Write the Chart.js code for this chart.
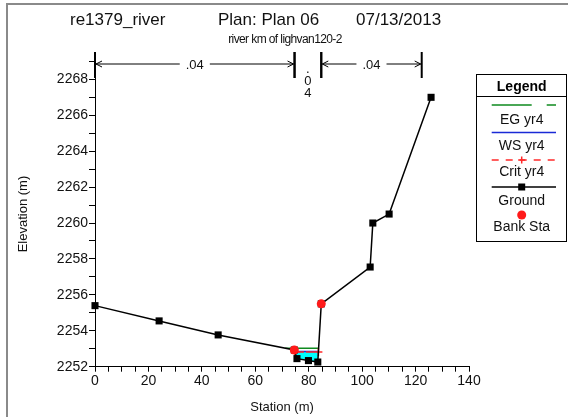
<!DOCTYPE html>
<html>
<head>
<meta charset="utf-8">
<script src="https://cdn.jsdelivr.net/npm/chart.js@4.4.0/dist/chart.umd.min.js"></script>
<style>
  html, body { margin: 0; padding: 0; background: #fff; }
  #wrap { width: 568px; height: 417px; }
</style>
</head>
<body>
<div id="wrap"><canvas id="xsChart" width="568" height="417"></canvas></div>
<script>
// --- cross section data ---
const groundStation = [0, 24, 46.1, 74.6, 75.6, 79.9, 83.4, 84.7, 103, 104, 110.1, 125.8];
const groundElev = [2255.4, 2254.55, 2253.77, 2252.93, 2252.45, 2252.34, 2252.26, 2255.5, 2257.55, 2260.0, 2260.5, 2267.0];
const bankStation = [74.6, 84.7];
const bankElev = [2252.93, 2255.5];
const egLevel = 2253.03;
const wsLevel = 2252.85;
const critLevel = 2252.82;

// manning n regions shown by the arrows on top
const nStart = [0, 74.7, 84.7];
const nEnd = [74.7, 84.7, 122.3];
const nValues = [".04", ".04", ".04"];

const legendLabels = ["EG yr4", "WS yr4", "Crit yr4", "Ground", "Bank Sta"];

const FONT = "'Liberation Sans', Arial, sans-serif";

// where a water level meets the ground on both sides of the channel
function waterEdges(level) {
  let lo = 0;
  groundElev.forEach((e, i) => { if (e < groundElev[lo]) lo = i; });
  let i = lo, j = lo;
  while (i > 0 && groundElev[i - 1] < level) i--;
  while (j < groundElev.length - 1 && groundElev[j + 1] < level) j++;
  const cross = (a, b) => groundStation[a] +
    (level - groundElev[a]) / (groundElev[b] - groundElev[a]) * (groundStation[b] - groundStation[a]);
  return { left: cross(i - 1, i), right: cross(j, j + 1), from: i, to: j };
}

function levelLine(level) {
  const w = waterEdges(level);
  return [{ x: w.left, y: level }, { x: w.right, y: level }];
}

function waterShape(level) {
  const w = waterEdges(level);
  const pts = [{ x: w.left, y: level }, { x: w.right, y: level }];
  for (let k = w.to; k >= w.from; k--) pts.push({ x: groundStation[k], y: groundElev[k] });
  return pts;
}

const groundPts = groundStation.map((s, i) => ({ x: s, y: groundElev[i] }));
const bankPts = bankStation.map((s, i) => ({ x: s, y: bankElev[i] }));

// --- extras drawn around the plot: frame, titles, n-value arrows, legend box ---
const decor = {
  id: "xsDecor",
  afterDraw(chart) {
    const ctx = chart.ctx;
    const xs = chart.scales.x;
    ctx.save();

    // frame
    ctx.strokeStyle = "#8a8a8a";
    ctx.lineWidth = 2;
    ctx.beginPath();
    ctx.moveTo(7, 417); ctx.lineTo(7, 4); ctx.lineTo(568, 4);
    ctx.stroke();

    // titles
    ctx.fillStyle = "#111";
    ctx.textBaseline = "middle";
    ctx.textAlign = "left";
    ctx.font = "17px " + FONT;
    ctx.fillText("re1379_river", 70, 20);
    ctx.fillText("Plan: Plan 06", 218, 20);
    ctx.fillText("07/13/2013", 356, 20);
    ctx.textAlign = "center";
    ctx.font = "12px " + FONT;
    ctx.letterSpacing = "-0.6px";
    ctx.fillText("river km of lighvan120-2", 285, 40);
    ctx.letterSpacing = "0px";

    // n-value arrows
    const ay = 64;
    ctx.font = "13px " + FONT;
    ctx.strokeStyle = "#000";
    nStart.forEach((s, i) => {
      const x1 = xs.getPixelForValue(s);
      const x2 = xs.getPixelForValue(nEnd[i]);
      ctx.lineWidth = 2;
      ctx.beginPath();
      ctx.moveTo(x1, 52); ctx.lineTo(x1, 78);
      ctx.moveTo(x2, 52); ctx.lineTo(x2, 78);
      ctx.stroke();
      const mid = (x1 + x2) / 2;
      if (x2 - x1 > 40) {
        const half = ctx.measureText(nValues[i]).width / 2 + 6;
        ctx.lineWidth = 1;
        ctx.beginPath();
        ctx.moveTo(x1 + 1, ay); ctx.lineTo(mid - half, ay);
        ctx.moveTo(mid + half, ay); ctx.lineTo(x2 - 1, ay);
        ctx.moveTo(x1 + 7, ay - 3); ctx.lineTo(x1 + 1, ay); ctx.lineTo(x1 + 7, ay + 3);
        ctx.moveTo(x2 - 7, ay - 3); ctx.lineTo(x2 - 1, ay); ctx.lineTo(x2 - 7, ay + 3);
        ctx.stroke();
        ctx.fillText(nValues[i], mid, ay + 1);
      } else {
        nValues[i].split("").forEach((c, k) => ctx.fillText(c, mid, 69 + k * 12.3));
      }
    });

    // legend box
    const lx = 476.5, ly = 74.5, lw = 90, lh = 167, cx = 521.7;
    ctx.fillStyle = "#fff";
    ctx.fillRect(lx, ly, lw, lh);
    ctx.lineWidth = 1;
    ctx.strokeStyle = "#000";
    ctx.strokeRect(lx, ly, lw, lh);
    ctx.beginPath();
    ctx.moveTo(lx, 96.5); ctx.lineTo(lx + lw, 96.5);
    ctx.stroke();
    ctx.fillStyle = "#000";
    ctx.font = "bold 14px " + FONT;
    ctx.fillText("Legend", cx, 87);
    ctx.font = "14px " + FONT;
    const sx1 = 491.7, sx2 = 556;
    const sample = (y, color, dash, width) => {
      ctx.save();
      ctx.strokeStyle = color;
      ctx.lineWidth = width;
      ctx.setLineDash(dash);
      ctx.beginPath();
      ctx.moveTo(sx1, y); ctx.lineTo(sx2, y);
      ctx.stroke();
      ctx.restore();
    };
    sample(105, "#0f8a1f", [40, 15], 1.3);
    sample(132.5, "#1a2ad6", [], 1.5);
    sample(160, "#ff2a2a", [7, 7], 1.3);
    ctx.strokeStyle = "#ff2a2a";
    ctx.lineWidth = 1.5;
    ctx.beginPath();
    ctx.moveTo(cx - 3.5, 160); ctx.lineTo(cx + 3.5, 160);
    ctx.moveTo(cx, 156.5); ctx.lineTo(cx, 163.5);
    ctx.stroke();
    sample(187, "#000", [], 1.3);
    ctx.fillStyle = "#000";
    ctx.fillRect(cx - 3.5, 183.5, 7, 7);
    ctx.fillStyle = "#ff1a1a";
    ctx.beginPath();
    ctx.arc(cx, 215, 4.5, 0, Math.PI * 2);
    ctx.fill();
    ctx.fillStyle = "#111";
    [120, 146, 172, 201.5, 227].forEach((y, i) => ctx.fillText(legendLabels[i], cx, y));

    ctx.restore();
  },
};

const canvas = document.getElementById("xsChart");
new Chart(canvas, {
  type: "line",
  data: {
    datasets: [
      {
        label: "Bank Sta",
        data: bankPts,
        showLine: false,
        pointStyle: "circle",
        pointRadius: 4.5,
        pointBackgroundColor: "#ff1a1a",
        pointBorderColor: "#ff1a1a",
        pointBorderWidth: 0,
        clip: false,
      },
      {
        label: "Ground",
        data: groundPts,
        borderColor: "#000",
        borderWidth: 1.5,
        pointStyle: "rect",
        pointRadius: 5,
        pointBackgroundColor: "#000",
        pointBorderColor: "#000",
        pointBorderWidth: 0,
        tension: 0,
        clip: false,
      },
      {
        label: "Crit yr4",
        data: levelLine(critLevel),
        borderColor: "#ff2a2a",
        borderWidth: 1.5,
        borderDash: [9, 2],
        pointStyle: "cross",
        pointRadius: 4,
        pointBorderColor: "#ff2a2a",
        pointBorderWidth: 1.5,
      },
      {
        label: "WS yr4",
        data: levelLine(wsLevel),
        borderColor: "#1a2ad6",
        borderWidth: 1.5,
        pointRadius: 0,
      },
      {
        label: "EG yr4",
        data: levelLine(egLevel),
        borderColor: "#0f8a1f",
        borderWidth: 1.5,
        pointRadius: 0,
      },
      {
        label: "water",
        data: waterShape(wsLevel),
        borderWidth: 0,
        pointRadius: 0,
        backgroundColor: "#00ffff",
        fill: "shape",
      },
    ],
  },
  options: {
    responsive: false,
    animation: false,
    events: [],
    layout: { padding: { left: 12, top: 61.4, right: 99, bottom: 0 } },
    scales: {
      x: {
        type: "linear",
        min: 0,
        max: 140,
        afterFit: (s) => { s.height = 50.3; },
        ticks: {
          stepSize: 5,
          autoSkip: false,
          maxRotation: 0,
          padding: 1,
          color: "#111",
          font: { family: FONT, size: 14 },
          callback: (v) => (v % 20 === 0 ? v : ""),
        },
        grid: { drawOnChartArea: false, tickLength: 5, color: "#000" },
        border: { color: "#000", width: 1 },
        title: {
          display: true,
          text: "Station (m)",
          color: "#111",
          font: { family: FONT, size: 13 },
          padding: { top: 0, bottom: 2 },
        },
      },
      y: {
        type: "linear",
        min: 2252,
        max: 2269,
        afterFit: (s) => { s.width = 83; },
        ticks: {
          stepSize: 1,
          autoSkip: false,
          padding: 1,
          color: "#111",
          font: { family: FONT, size: 14 },
          callback: (v) => (v % 2 === 0 ? v : ""),
        },
        grid: { drawOnChartArea: false, tickLength: 6, color: "#000" },
        border: { color: "#000", width: 1 },
        title: {
          display: true,
          text: "Elevation (m)",
          color: "#111",
          font: { family: FONT, size: 13 },
          padding: { top: 4, bottom: 0 },
        },
      },
    },
    plugins: {
      legend: { display: false },
      tooltip: { enabled: false },
    },
  },
  plugins: [decor],
});
</script>
</body>
</html>
